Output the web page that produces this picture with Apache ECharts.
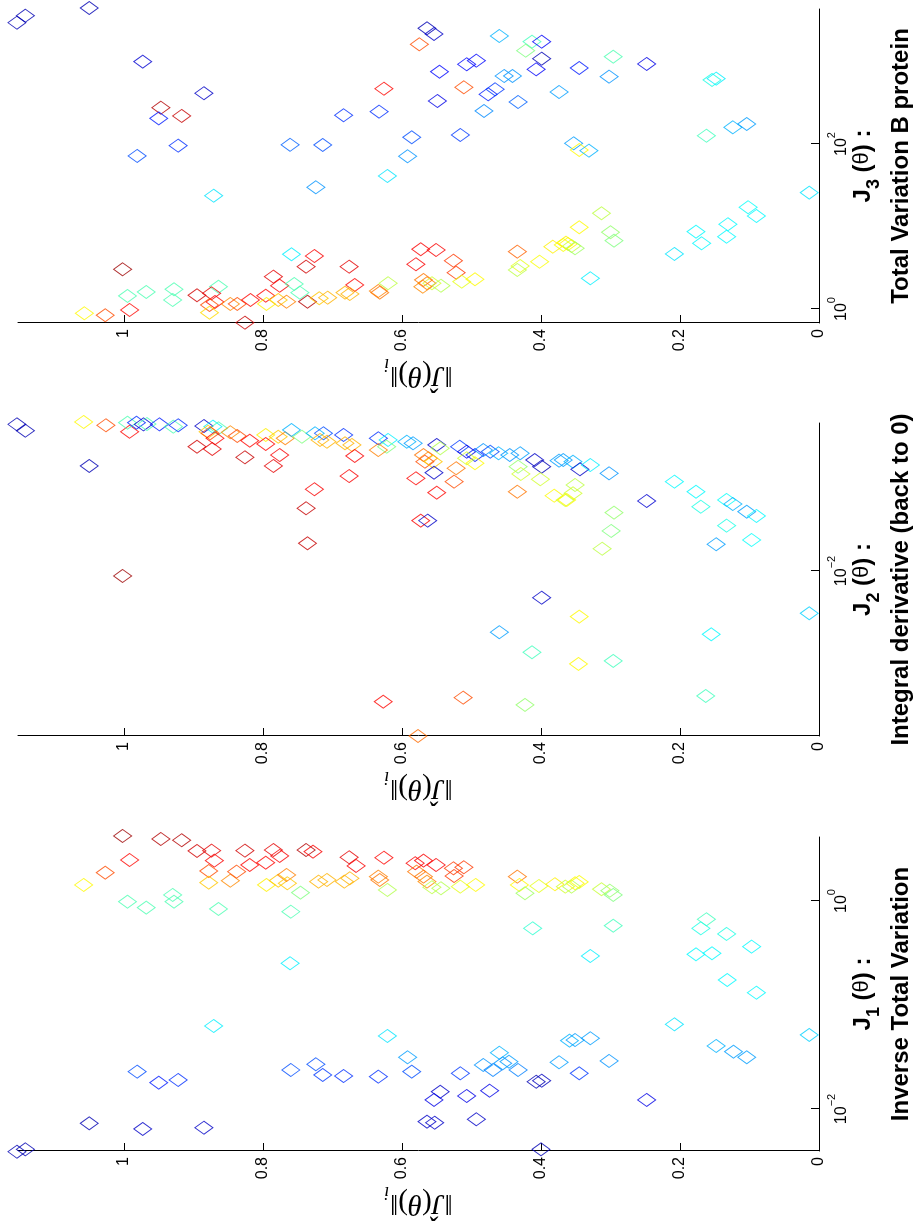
<!DOCTYPE html>
<html>
<head>
<meta charset="utf-8">
<script src="https://cdn.jsdelivr.net/npm/echarts@6/dist/echarts.min.js"></script>
<style>
  html, body { margin: 0; padding: 0; background: #fff; overflow: hidden; }
  body { width: 916px; height: 1224px; position: relative; }
  /* The figure is laid out landscape (1224 x 916) and turned a quarter turn
     counter-clockwise to sit on the portrait page. */
  #fig {
    position: absolute; left: 0; top: 1224px;
    width: 1224px; height: 916px;
    transform-origin: 0 0; transform: rotate(-90deg);
    background: #fff;
  }
</style>
</head>
<body>
<div id="fig"></div>
<script>
// Each point: [log10 J_k(theta), ||J(theta)||_i, colour index on the jet scale (0..1)]
const j1Points = [
  [0.625,1.002,0.97],[0.596,0.947,0.95],[0.584,0.917,0.95],[0.481,0.895,0.92],[0.484,0.874,0.9],
  [0.388,0.87,0.88],[0.484,0.826,0.92],[0.49,0.785,0.9],[0.433,0.776,0.88],[0.394,0.992,0.87],
  [0.272,1.027,0.8],[0.154,1.058,0.63],[0.288,0.878,0.8],[0.176,0.878,0.68],[0.195,0.847,0.74],
  [0.282,0.838,0.8],[0.346,0.819,0.87],[0.368,0.796,0.87],[0.154,0.795,0.64],[0.195,0.778,0.68],
  [0.25,0.766,0.75],[-0.007,0.995,0.45],[-0.064,0.968,0.45],[0.058,0.93,0.45],[-0.007,0.928,0.45],
  [-0.077,0.864,0.45],[-0.103,0.76,0.45],[-1.202,0.871,0.36],[-0.599,0.761,0.36],[-1.641,0.981,0.2],
  [-1.747,0.95,0.15],[-1.721,0.922,0.17],[-2.138,1.05,0.05],[-2.192,0.973,0.07],[-2.18,0.885,0.07],
  [-2.411,1.154,0.05],[-2.388,1.142,0.05],[-1.625,0.76,0.2],[0.49,0.738,0.95],[0.474,0.728,0.88],
  [0.42,0.676,0.9],[0.337,0.666,0.88],[0.416,0.626,0.87],[0.363,0.581,0.88],[0.388,0.569,0.88],
  [0.346,0.551,0.88],[0.314,0.526,0.82],[0.324,0.511,0.82],[0.24,0.525,0.82],[0.282,0.579,0.76],
  [0.234,0.569,0.76],[0.186,0.564,0.74],[0.17,0.765,0.68],[0.186,0.72,0.7],[0.202,0.708,0.7],
  [0.186,0.683,0.7],[0.218,0.675,0.7],[0.234,0.634,0.75],[0.202,0.632,0.76],[0.08,0.746,0.5],
  [0.106,0.621,0.55],[0.132,0.557,0.56],[0.122,0.544,0.55],[0.138,0.516,0.6],[0.154,0.494,0.63],
  [0.234,0.434,0.76],[0.154,0.431,0.63],[0.074,0.423,0.53],[0.144,0.403,0.6],[0.161,0.38,0.64],
  [0.138,0.365,0.58],[-0.263,0.412,0.42],[-1.298,0.621,0.35],[-1.503,0.592,0.28],[-1.641,0.586,0.2],
  [-1.57,0.724,0.2],[-1.673,0.714,0.18],[-1.683,0.684,0.17],[-1.689,0.634,0.17],[-1.657,0.516,0.18],
  [-1.577,0.483,0.27],[-1.625,0.469,0.25],[-1.459,0.46,0.3],[-1.561,0.455,0.27],[-1.545,0.446,0.28],
  [-1.625,0.433,0.25],[-1.551,0.374,0.28],[-1.343,0.359,0.3],[-1.834,0.545,0.07],[-1.913,0.554,0.1],
  [-1.875,0.507,0.1],[-1.824,0.474,0.1],[-2.122,0.564,0.07],[-2.132,0.553,0.07],[-2.099,0.493,0.07],
  [-1.738,0.407,0.05],[-1.728,0.399,0.06],[-2.388,0.4,0.05],[0.17,0.351,0.63],[0.138,0.356,0.55],
  [0.183,0.345,0.62],[0.113,0.313,0.57],[0.099,0.301,0.52],[0.058,0.296,0.5],[-0.238,0.296,0.44],
  [-0.176,0.162,0.44],[-0.263,0.17,0.4],[-0.317,0.133,0.4],[-0.439,0.097,0.37],[-0.513,0.177,0.37],
  [-0.503,0.154,0.37],[-0.529,0.329,0.36],[-0.76,0.132,0.37],[-0.882,0.09,0.37],[-1.186,0.208,0.35],
  [-1.288,0.014,0.33],[-1.337,0.351,0.28],[-1.32,0.329,0.28],[-1.394,0.148,0.3],[-1.449,0.123,0.28],
  [-1.503,0.104,0.28],[-1.538,0.302,0.27],[-1.657,0.345,0.18],[-1.913,0.248,0.1]
];

const j2Points = [
  [-0.59,1.154,0.05],[-0.651,1.142,0.05],[-0.567,1.058,0.63],[-0.599,1.026,0.8],[-0.661,0.992,0.87],
  [-0.574,0.995,0.45],[-0.574,0.982,0.17],[-0.59,0.972,0.08],[-0.587,0.967,0.45],[-0.59,0.949,0.15],
  [-0.612,0.929,0.45],[-0.599,0.922,0.17],[-0.606,0.885,0.07],[-0.612,0.872,0.36],[-0.628,0.864,0.45],
  [-0.661,0.879,0.68],[-0.676,0.876,0.8],[-0.724,0.869,0.87],[-0.805,0.895,0.92],[-0.827,0.873,0.9],
  [-0.666,0.847,0.74],[-0.702,0.837,0.8],[-0.747,0.819,0.87],[-0.907,0.826,0.93],[-0.692,0.796,0.64],
  [-0.779,0.796,0.87],[-0.709,0.778,0.68],[-0.724,0.768,0.75],[-0.885,0.776,0.88],[-0.99,0.785,0.9],
  [-0.99,1.05,0.05],[-2.048,1.002,0.97],[-0.644,0.759,0.3],[-0.709,0.744,0.5],[-0.676,0.725,0.3],
  [-0.676,0.713,0.2],[-0.74,0.718,0.7],[-0.757,0.708,0.7],[-0.692,0.684,0.17],[-0.772,0.682,0.7],
  [-0.788,0.672,0.7],[-0.894,0.668,0.88],[-0.724,0.634,0.17],[-0.74,0.62,0.36],[-0.805,0.622,0.5],
  [-0.837,0.634,0.75],[-0.757,0.593,0.3],[-0.772,0.584,0.28],[-0.788,0.55,0.07],[-0.82,0.545,0.55],
  [-0.885,0.569,0.76],[-0.916,0.562,0.74],[-0.949,0.567,0.8],[-0.949,0.555,0.68],[-0.805,0.517,0.18],
  [-0.853,0.507,0.1],[-0.885,0.495,0.15],[-0.837,0.483,0.27],[-0.853,0.473,0.2],[-0.868,0.461,0.3],
  [-0.885,0.445,0.27],[-0.868,0.43,0.28],[-0.916,0.507,0.58],[-0.964,0.495,0.63],[-0.933,0.409,0.07],
  [-0.997,0.399,0.05],[-0.939,0.374,0.28],[-0.997,0.433,0.52],[-1.067,0.429,0.58],[-1.118,0.401,0.58],
  [-1.012,0.522,0.76],[-1.141,0.525,0.8],[-1.055,0.554,0.07],[-1.109,0.58,0.87],[-1.247,0.55,0.87],
  [-1.087,0.676,0.88],[-1.214,0.726,0.88],[-1.397,0.738,0.93],[-1.734,0.736,0.93],[-1.516,0.573,0.88],
  [-1.516,0.563,0.07],[-1.238,0.434,0.76],[-1.276,0.381,0.63],[-1.317,0.365,0.58],[-2.257,0.399,0.07],
  [-2.589,0.46,0.28],[-2.782,0.413,0.44],[-0.933,0.368,0.28],[-0.949,0.354,0.3],[-1.022,0.344,0.07],
  [-0.981,0.329,0.36],[-1.061,0.302,0.27],[-1.173,0.351,0.56],[-1.253,0.354,0.58],[-1.317,0.363,0.63],
  [-1.327,0.248,0.08],[-1.439,0.295,0.52],[-1.615,0.299,0.5],[-1.786,0.312,0.56],[-1.141,0.208,0.37],
  [-1.238,0.177,0.37],[-1.382,0.17,0.4],[-1.317,0.133,0.38],[-1.356,0.124,0.3],[-1.43,0.104,0.28],
  [-1.471,0.09,0.37],[-1.564,0.133,0.4],[-1.702,0.097,0.38],[-1.743,0.148,0.28],[-2.439,0.345,0.63],
  [-2.609,0.155,0.37],[-2.407,0.014,0.33],[-2.894,0.346,0.63],[-2.865,0.296,0.44],[-3.257,0.627,0.87],
  [-3.218,0.512,0.8],[-3.288,0.423,0.52],[-3.587,0.577,0.77],[-3.202,0.163,0.44]
];

const j3Points = [
  [3.47,1.154,0.05],[3.555,1.142,0.05],[3.648,1.05,0.05],[2.998,0.973,0.08],[2.615,0.885,0.07],
  [2.44,0.947,0.95],[2.34,0.917,0.93],[2.31,0.95,0.15],[1.98,0.922,0.17],[1.855,0.981,0.2],
  [1.373,0.871,0.35],[1.99,0.761,0.22],[0.663,0.759,0.36],[0.481,1.002,0.97],[0.158,0.995,0.45],
  [0.206,0.968,0.45],[0.239,0.928,0.45],[0.109,0.93,0.45],[0.27,0.864,0.45],[-0.052,1.057,0.63],
  [-0.076,1.027,0.8],[-0.012,0.992,0.87],[0.166,0.895,0.92],[0.19,0.874,0.9],[0.085,0.869,0.87],
  [0.048,0.877,0.8],[-0.045,0.877,0.66],[0.061,0.847,0.74],[0.061,0.837,0.8],[0.109,0.818,0.87],
  [-0.166,0.826,0.93],[0.392,0.785,0.9],[0.282,0.776,0.88],[0.161,0.796,0.87],[0.061,0.795,0.64],
  [0.109,0.778,0.68],[0.088,0.766,0.75],[3.402,0.564,0.05],[3.333,0.554,0.07],[3.208,0.575,0.8],
  [3.309,0.46,0.3],[3.24,0.413,0.44],[3.131,0.422,0.5],[3.24,0.399,0.12],[3.034,0.399,0.05],
  [2.905,0.407,0.12],[2.876,0.546,0.13],[2.966,0.507,0.13],[3.01,0.493,0.13],[2.67,0.626,0.87],
  [2.687,0.511,0.8],[2.824,0.453,0.27],[2.824,0.441,0.27],[2.602,0.476,0.15],[2.663,0.466,0.18],
  [2.63,0.374,0.28],[2.521,0.549,0.1],[2.509,0.433,0.22],[2.4,0.482,0.26],[2.348,0.684,0.17],
  [2.392,0.633,0.17],[2.081,0.586,0.2],[2.109,0.516,0.18],[1.988,0.714,0.2],[1.851,0.592,0.27],
  [1.612,0.621,0.35],[1.475,0.724,0.27],[0.642,0.726,0.88],[0.513,0.738,0.92],[0.513,0.676,0.9],
  [0.291,0.668,0.87],[0.724,0.573,0.88],[0.715,0.551,0.88],[0.542,0.58,0.88],[0.585,0.526,0.82],
  [0.44,0.522,0.82],[0.303,0.755,0.45],[0.198,0.747,0.45],[0.088,0.736,0.95],[0.13,0.719,0.68],
  [0.137,0.707,0.7],[0.198,0.682,0.7],[0.182,0.675,0.7],[0.218,0.634,0.75],[0.198,0.632,0.76],
  [0.312,0.62,0.56],[0.352,0.569,0.76],[0.312,0.564,0.75],[0.312,0.557,0.58],[0.282,0.544,0.55],
  [0.331,0.514,0.6],[0.36,0.495,0.63],[0.27,0.57,0.74],[0.695,0.434,0.78],[0.755,0.383,0.64],
  [0.804,0.364,0.64],[0.573,0.402,0.62],[0.521,0.43,0.6],[0.473,0.434,0.56],[3.058,0.296,0.45],
  [2.921,0.345,0.15],[2.97,0.248,0.1],[2.816,0.302,0.27],[2.776,0.154,0.4],[2.792,0.148,0.36],
  [2.202,0.124,0.3],[2.242,0.104,0.28],[2.1,0.162,0.44],[2.008,0.353,0.28],[1.927,0.345,0.63],
  [1.919,0.331,0.3],[1.41,0.014,0.35],[1.233,0.102,0.38],[1.127,0.09,0.37],[1.16,0.313,0.56],
  [0.99,0.345,0.63],[0.93,0.3,0.52],[0.828,0.295,0.5],[0.788,0.361,0.63],[0.764,0.356,0.57],
  [0.736,0.351,0.53],[0.776,0.368,0.62],[0.937,0.177,0.37],[0.796,0.169,0.37],[1.027,0.131,0.37],
  [0.876,0.133,0.37],[0.667,0.208,0.35],[0.372,0.329,0.36]
];

// Axis settings
const logRanges = [[-2.404, 0.615], [-3.587, -0.577], [-0.17, 3.636]];
const logTicks = [[-2, 0], [-2], [0, 2]];
const normTicks = [0, 0.2, 0.4, 0.6, 0.8, 1];
const normMax = 1.1525;
const subscripts = ['1', '2', '3'];
const titles = ['Inverse Total Variation', 'Integral derivative (back to 0)', 'Total Variation B protein'];

// Panel placement on the landscape canvas
const panelLeft = [73, 488, 901];
const panelWidth = [314, 313, 314];
const panelTop = 18, panelHeight = 801;

function jet(c) {
  const f = t => Math.round(255 * Math.max(0, Math.min(1, 1.5 - Math.abs(4 * c - t))));
  return 'rgb(' + f(3) + ',' + f(2) + ',' + f(1) + ')';
}

const SANS = '"Liberation Sans", Arial, Helvetica, sans-serif';
const SERIF = '"Liberation Serif", "Times New Roman", serif';

const grid = [], xAxis = [], yAxis = [], series = [], graphic = [];
const panels = [j1Points, j2Points, j3Points];

panels.forEach((pts, i) => {
  grid.push({ left: panelLeft[i], top: panelTop, width: panelWidth[i], height: panelHeight });
  xAxis.push({
    gridIndex: i, type: 'value', min: logRanges[i][0], max: logRanges[i][1], position: 'bottom',
    axisLine: { show: true, onZero: false, lineStyle: { color: '#000', width: 1 } },
    axisTick: { show: true, inside: true, length: 8, customValues: logTicks[i], lineStyle: { color: '#000' } },
    axisLabel: {
      customValues: logTicks[i], margin: 7, color: '#000',
      formatter: v => '{b|10}{e|' + (v < 0 ? '\u2212' + Math.abs(v) : String(v)) + '}',
      rich: {
        b: { fontFamily: SANS, fontSize: 16, color: '#000', lineHeight: 24, verticalAlign: 'bottom' },
        e: { fontFamily: SANS, fontSize: 11, color: '#000', lineHeight: 12, verticalAlign: 'top' }
      }
    },
    splitLine: { show: false }
  });
  yAxis.push({
    gridIndex: i, type: 'value', min: 0, max: normMax,
    axisLine: { show: true, onZero: false, lineStyle: { color: '#000', width: 1 } },
    axisTick: { show: true, inside: true, length: 8, customValues: normTicks, lineStyle: { color: '#000' } },
    axisLabel: {
      customValues: normTicks, margin: 6, color: '#000', fontFamily: SANS, fontSize: 16,
      formatter: v => String(Math.round(v * 10) / 10)
    },
    splitLine: { show: false }
  });
  series.push({
    type: 'scatter', xAxisIndex: i, yAxisIndex: i, symbol: 'diamond', symbolSize: [13, 18],
    clip: false, silent: true,
    data: pts.map(p => ({
      value: [p[0], p[1]],
      itemStyle: { color: 'rgba(0,0,0,0)', borderColor: jet(p[2]), borderWidth: 1 }
    }))
  });

  const cx = panelLeft[i] + panelWidth[i] / 2;
  // Two-line caption under each panel
  graphic.push({
    type: 'text', x: cx, y: 864, silent: true,
    style: {
      text: '{b|J}{s|' + subscripts[i] + '}{b| (}{t|\u03b8}{b|) :}',
      align: 'center', verticalAlign: 'middle', fill: '#000',
      rich: {
        b: { fontFamily: SANS, fontWeight: 'bold', fontSize: 24, lineHeight: 26, verticalAlign: 'top' },
        s: { fontFamily: SANS, fontWeight: 'bold', fontSize: 18, lineHeight: 18, padding: [14, 0, 0, 0], verticalAlign: 'top' },
        t: { fontFamily: SANS, fontSize: 22, lineHeight: 26, verticalAlign: 'top' }
      }
    }
  });
  graphic.push({
    type: 'text', x: cx, y: 901, silent: true,
    style: {
      text: titles[i], align: 'center', verticalAlign: 'middle', fill: '#000',
      font: 'bold 24px ' + SANS
    }
  });
  // Value-axis name
  graphic.push({
    type: 'text', x: panelLeft[i] - 50, y: panelTop + panelHeight / 2, rotation: Math.PI / 2, silent: true,
    style: {
      text: '{n|\u2016}{j|\u0134}{n|(}{j|\u03b8}{n|)\u2016}{s|i}',
      align: 'center', verticalAlign: 'middle', fill: '#000',
      rich: {
        n: { fontFamily: SERIF, fontSize: 29, lineHeight: 32, verticalAlign: 'top' },
        j: { fontFamily: SERIF, fontStyle: 'italic', fontSize: 29, lineHeight: 32, verticalAlign: 'top' },
        s: { fontFamily: SERIF, fontStyle: 'italic', fontSize: 18, lineHeight: 18, padding: [16, 0, 0, 1], verticalAlign: 'top' }
      }
    }
  });
});

const chart = echarts.init(document.getElementById('fig'), null, { renderer: 'canvas', width: 1224, height: 916 });
chart.setOption({
  animation: false,
  backgroundColor: '#fff',
  grid, xAxis, yAxis, series, graphic
});
</script>
</body>
</html>
